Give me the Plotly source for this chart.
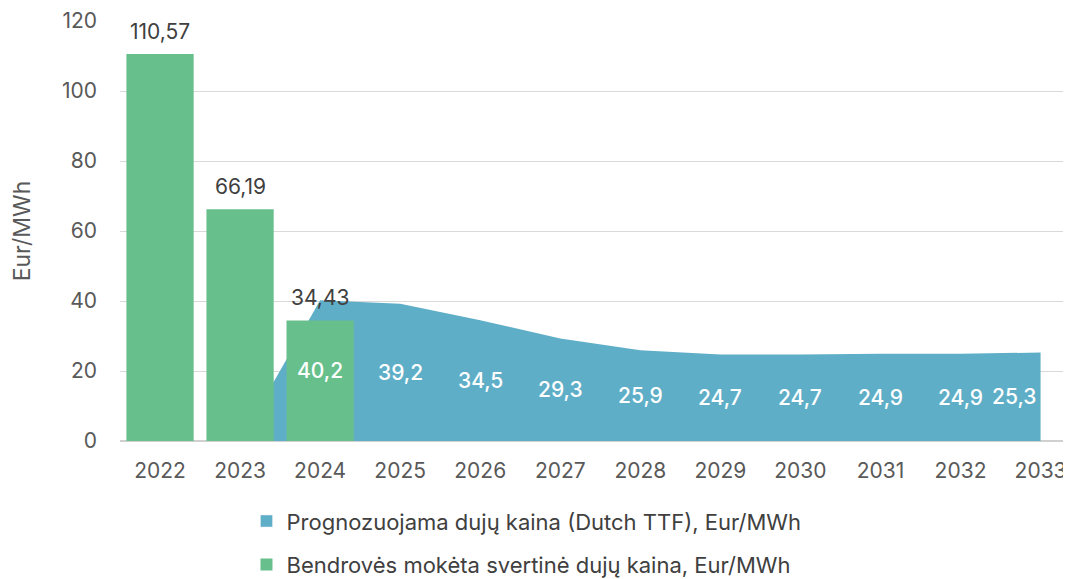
import plotly.graph_objects as go

years = ["2022", "2023", "2024", "2025", "2026", "2027", "2028", "2029", "2030", "2031", "2032", "2033"]
paid_years = ["2022", "2023", "2024"]
paid_price = [110.57, 66.19, 34.43]
forecast_price = [None, 0, 40.2, 39.2, 34.5, 29.3, 25.9, 24.7, 24.7, 24.9, 24.9, 25.3]
label_years = years[2:]

BLUE = "#5FAEC7"
GREEN = "#67BF8C"
FONT = "Inter"
FS = 21

def fmt(v, d):
    return f"{v:.{d}f}".replace(".", ",")

fig = go.Figure()

# forecast area (main subplot, drawn underneath)
fig.add_trace(go.Scatter(
    x=years, y=forecast_price, mode="none", fill="tozeroy",
    fillcolor=BLUE, showlegend=False, hoverinfo="skip",
    xaxis="x", yaxis="y",
))
# legend entry for the area, shown as a square swatch
fig.add_trace(go.Bar(
    x=[years[0]], y=[None], marker_color=BLUE,
    name="Prognozuojama dujų kaina (Dutch TTF), Eur/MWh",
    legendgroup="a", xaxis="x2", yaxis="y2",
))
# paid price bars (overlay subplot, drawn on top)
fig.add_trace(go.Bar(
    x=paid_years, y=paid_price, marker_color=GREEN, marker_line_width=0,
    width=0.84, name="Bendrovės mokėta svertinė dujų kaina, Eur/MWh",
    legendgroup="b", xaxis="x2", yaxis="y2",
))

for yr, v in zip(paid_years, paid_price):
    fig.add_annotation(x=years.index(yr), y=v, xref="x2", yref="y2", text=fmt(v, 2),
                       showarrow=False, yshift=23,
                       font=dict(family=FONT, size=FS, color="#404040"))

for yr, v in zip(years, forecast_price):
    if yr in label_years:
        last = yr == years[-1]
        fig.add_annotation(x=years.index(yr), y=v / 2, xref="x2", yref="y2", text=fmt(v, 1),
                           showarrow=False,
                           xanchor="right" if last else "center",
                           xshift=-3 if last else 0,
                           font=dict(family=FONT, size=FS, color="white", weight=500))

XR = [-0.5, 11.38]
fig.update_layout(
    width=1071, height=579,
    margin=dict(l=112, r=8, t=13, b=146, autoexpand=False),
    paper_bgcolor="white", plot_bgcolor="white",
    font=dict(family=FONT, color="#595959"),
    showlegend=True,
    barmode="overlay",
    legend=dict(
        orientation="v",
        x=0.133, xanchor="left", y=-0.141, yanchor="top",
        font=dict(family=FONT, size=22, color="#404040"),
        tracegroupgap=12, traceorder="grouped",
        itemwidth=30,
    ),
    xaxis=dict(
        type="category", categoryorder="array", categoryarray=years,
        range=XR, showgrid=False, showline=False, zeroline=False,
        tickfont=dict(family=FONT, size=FS, color="#595959"),
        ticklabelstandoff=15, automargin=False, tickangle=0,
        ticklabeloverflow="allow",
    ),
    yaxis=dict(
        range=[0, 120], dtick=20, showgrid=True, gridcolor="#D9D9D9", gridwidth=1,
        zeroline=True, zerolinecolor="#D0D0D0", zerolinewidth=1.5,
        tickfont=dict(family=FONT, size=FS, color="#595959"),
        ticklabelstandoff=22, automargin=False,
        title=dict(text="Eur/MWh", standoff=24,
                   font=dict(family=FONT, size=23, color="#595959")),
    ),
    xaxis2=dict(
        type="category", categoryorder="array", categoryarray=years,
        range=XR, overlaying="x", visible=False, automargin=False,
    ),
    yaxis2=dict(range=[0, 120], overlaying="y", visible=False, automargin=False),
)

fig.write_html("out.html")
